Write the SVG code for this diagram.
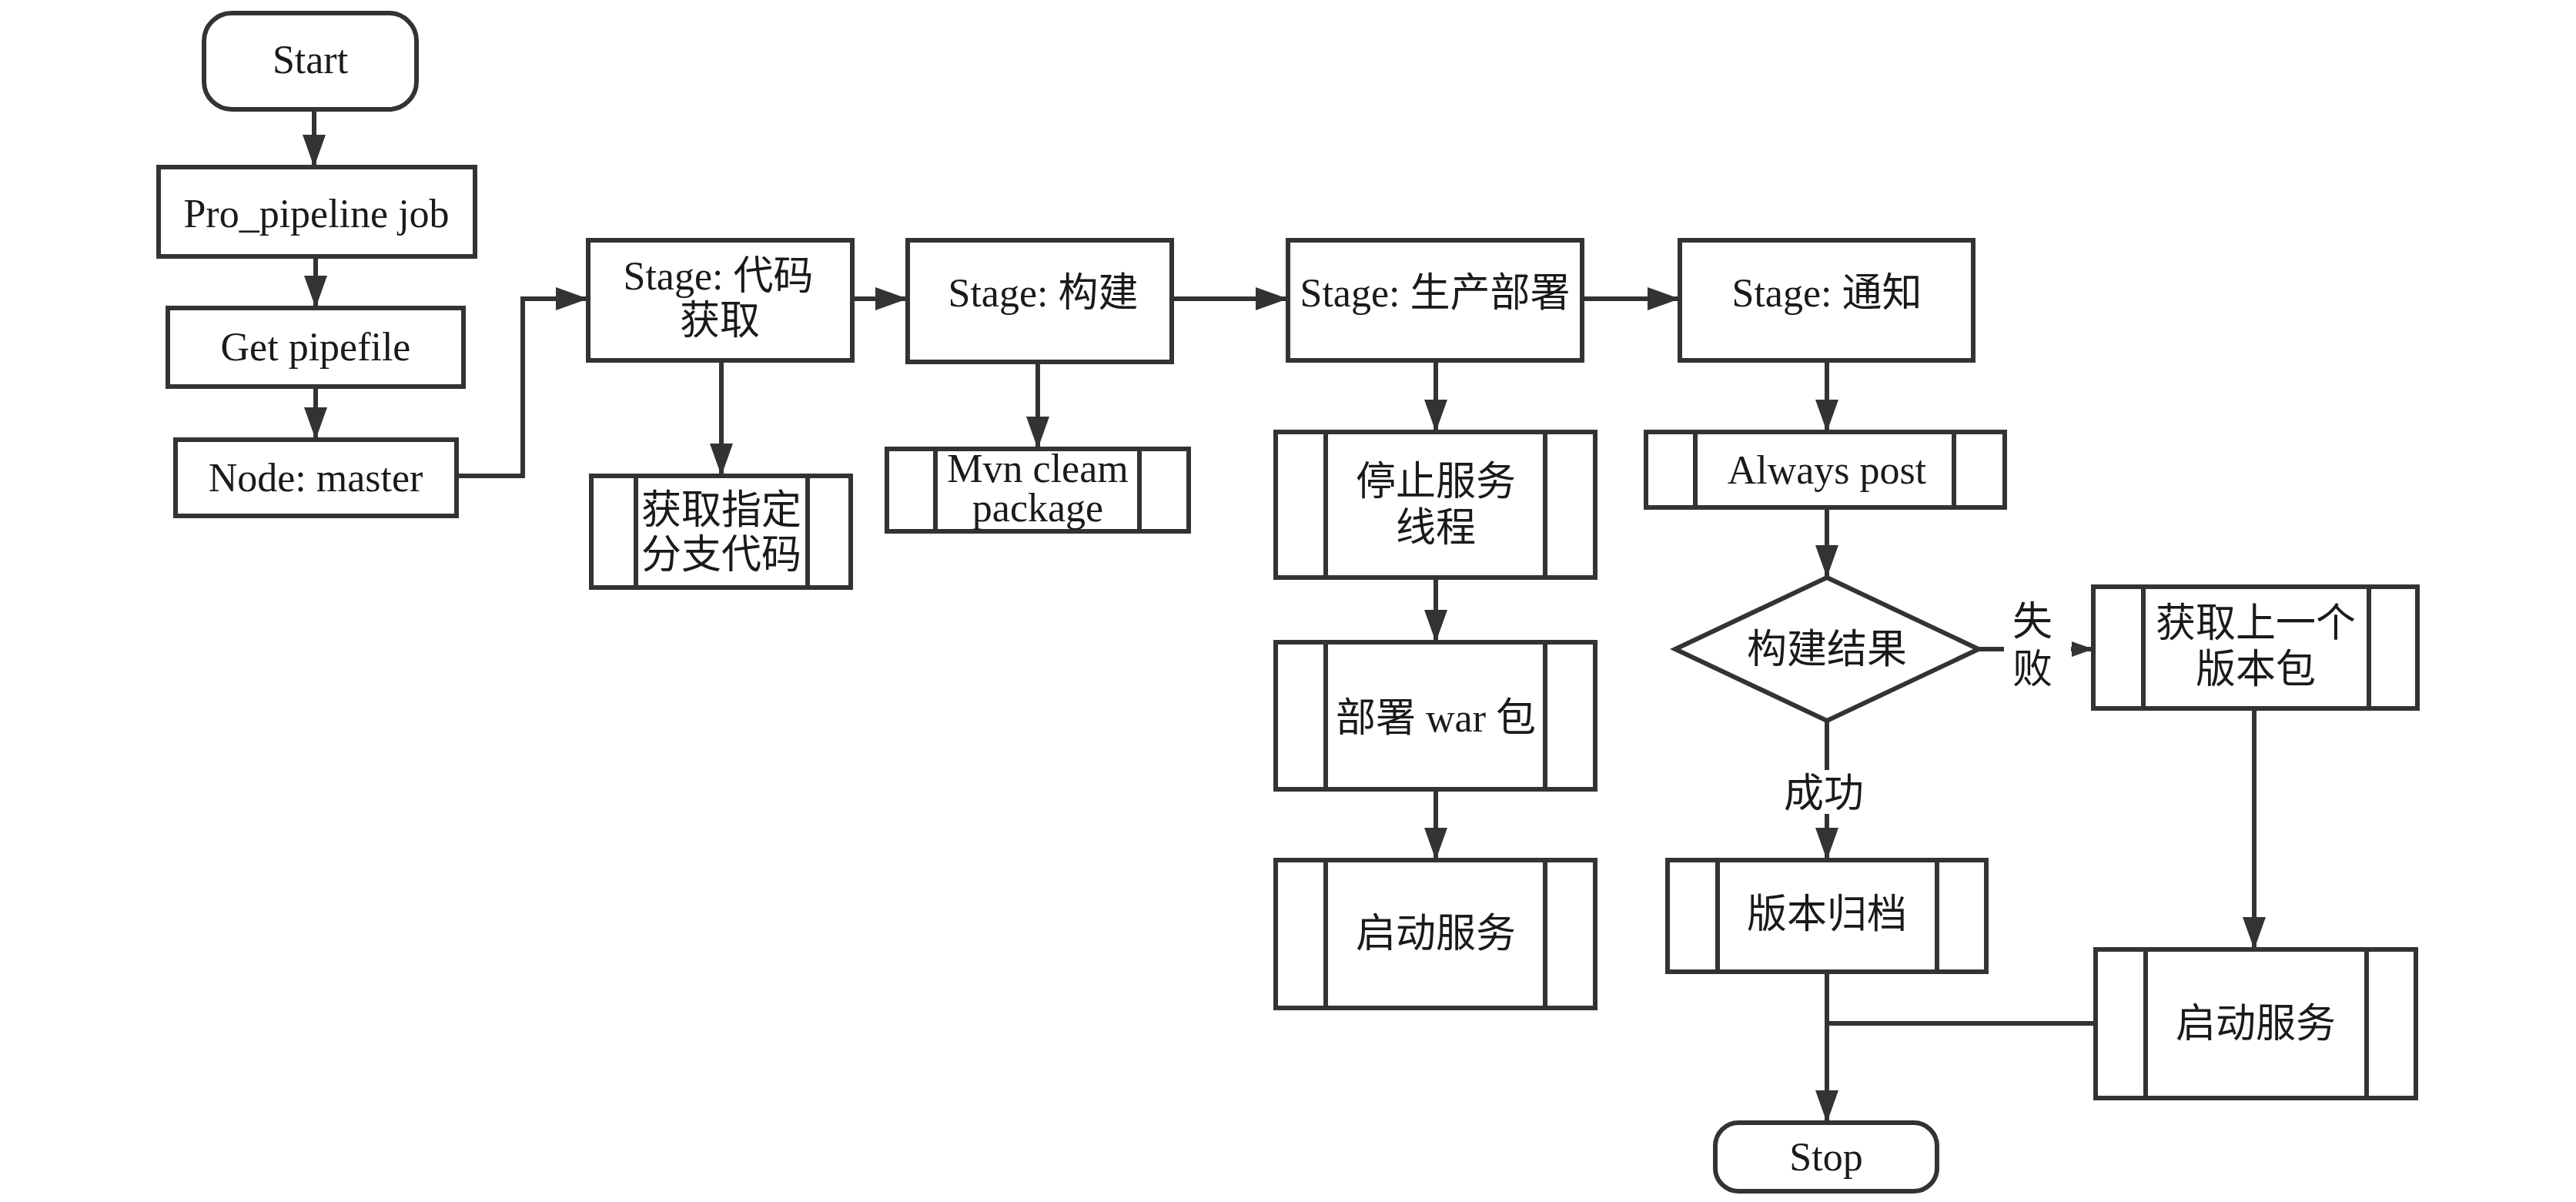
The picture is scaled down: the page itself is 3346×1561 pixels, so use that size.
<svg xmlns="http://www.w3.org/2000/svg" width="3346" height="1561" viewBox="0 0 3346 1561">
<style>
.b{fill:#fff;stroke:#333;stroke-width:6}
.l{fill:none;stroke:#333;stroke-width:6}
.c{fill:none;stroke:#333;stroke-width:6}
text{font-family:"Liberation Serif","Noto Sans CJK SC",serif;font-size:52px;fill:#1a1a1a;text-anchor:middle;dominant-baseline:central}
</style>
<defs>
<marker id="a" markerUnits="userSpaceOnUse" markerWidth="44" markerHeight="32" refX="42" refY="15" orient="auto">
<path d="M0,0 L42,15 L0,30 Z" fill="#333"/>
</marker>
<marker id="s" markerUnits="userSpaceOnUse" markerWidth="30" markerHeight="22" refX="28" refY="10" orient="auto">
<path d="M0,0 L28,10 L0,20 Z" fill="#333"/>
</marker>
</defs>
<rect width="3346" height="1561" fill="#fff"/>
<g id="connectors">
<path class="c" d="M408,142 V217" marker-end="url(#a)"/>
<path class="c" d="M410,333 V400" marker-end="url(#a)"/>
<path class="c" d="M410,502 V571" marker-end="url(#a)"/>
<path class="c" d="M593,618 H679 V388 H764" marker-end="url(#a)"/>
<path class="c" d="M1107,388 H1179" marker-end="url(#a)"/>
<path class="c" d="M937,468 V618" marker-end="url(#a)"/>
<path class="c" d="M1522,388 H1673" marker-end="url(#a)"/>
<path class="c" d="M1348,470 V583" marker-end="url(#a)"/>
<path class="c" d="M2055,388 H2182" marker-end="url(#a)"/>
<path class="c" d="M1865,468 V561" marker-end="url(#a)"/>
<path class="c" d="M1865,750 V834" marker-end="url(#a)"/>
<path class="c" d="M1865,1025 V1117" marker-end="url(#a)"/>
<path class="c" d="M2373,468 V561" marker-end="url(#a)"/>
<path class="c" d="M2373,659 V750" marker-end="url(#a)"/>
<path class="c" d="M2373,936 V1000"/>
<path class="c" d="M2373,1057 V1117" marker-end="url(#a)"/>
<path class="c" d="M2570,843 H2603"/>
<path class="c" d="M2690,843 H2719" marker-end="url(#s)"/>
<path class="c" d="M2928,920 V1233" marker-end="url(#a)"/>
<path class="c" d="M2720,1329 H2373"/>
<path class="c" d="M2373,1262 V1458" marker-end="url(#a)"/>
<text x="2369" y="1030">成功</text>
<text x="2640" y="807">失</text>
<text x="2640" y="869">败</text>
</g>
<g id="start"><rect class="b" x="265" y="17" width="276" height="125" rx="36"/><text x="403" y="77">Start</text></g>
<g id="pro"><rect class="b" x="206" y="217" width="411" height="116"/><text x="411" y="277">Pro_pipeline job</text></g>
<g id="getpipe"><rect class="b" x="218" y="400" width="384" height="102"/><text x="410" y="450">Get pipefile</text></g>
<g id="nodemaster"><rect class="b" x="228" y="571" width="365" height="99"/><text x="410" y="620">Node: master</text></g>
<g id="stage1"><rect class="b" x="764" y="312" width="343" height="156"/><text x="933" y="358">Stage: 代码</text><text x="935" y="416">获取</text></g>
<g id="sub1"><rect class="b" x="768" y="618" width="337" height="145"/><path class="l" d="M826,618 V763 M1049,618 V763"/><text x="937" y="662">获取指定</text><text x="937" y="720">分支代码</text></g>
<g id="stage2"><rect class="b" x="1179" y="312" width="343" height="158"/><text x="1355" y="380">Stage: 构建</text></g>
<g id="sub2"><rect class="b" x="1152" y="583" width="392" height="107"/><path class="l" d="M1215,583 V690 M1480,583 V690"/><text x="1348" y="608">Mvn cleam</text><text x="1348" y="659">package</text></g>
<g id="stage3"><rect class="b" x="1673" y="312" width="382" height="156"/><text x="1864" y="380">Stage: 生产部署</text></g>
<g id="sub3a"><rect class="b" x="1657" y="561" width="415" height="189"/><path class="l" d="M1722,561 V750 M2007,561 V750"/><text x="1865" y="625">停止服务</text><text x="1865" y="685">线程</text></g>
<g id="sub3b"><rect class="b" x="1657" y="834" width="415" height="191"/><path class="l" d="M1722,834 V1025 M2007,834 V1025"/><text x="1865" y="932">部署 war 包</text></g>
<g id="sub3c"><rect class="b" x="1657" y="1117" width="415" height="192"/><path class="l" d="M1722,1117 V1309 M2007,1117 V1309"/><text x="1865" y="1212">启动服务</text></g>
<g id="stage4"><rect class="b" x="2182" y="312" width="381" height="156"/><text x="2373" y="380">Stage: 通知</text></g>
<g id="always"><rect class="b" x="2138" y="561" width="466" height="98"/><path class="l" d="M2202,561 V659 M2538,561 V659"/><text x="2373" y="610">Always post</text></g>
<g id="decision"><path class="b" d="M2373,750 L2570,843 L2373,936 L2176,843 Z"/><text x="2373" y="843">构建结果</text></g>
<g id="archive"><rect class="b" x="2166" y="1117" width="414" height="145"/><path class="l" d="M2231,1117 V1262 M2516,1117 V1262"/><text x="2373" y="1187">版本归档</text></g>
<g id="prev"><rect class="b" x="2719" y="762" width="421" height="158"/><path class="l" d="M2784,762 V920 M3077,762 V920"/><text x="2930" y="809">获取上一个</text><text x="2930" y="869">版本包</text></g>
<g id="restart"><rect class="b" x="2722" y="1233" width="416" height="193"/><path class="l" d="M2787,1233 V1426 M3074,1233 V1426"/><text x="2930" y="1329">启动服务</text></g>
<g id="stop"><rect class="b" x="2228" y="1458" width="288" height="89" rx="30"/><text x="2372" y="1502">Stop</text></g>
</svg>
